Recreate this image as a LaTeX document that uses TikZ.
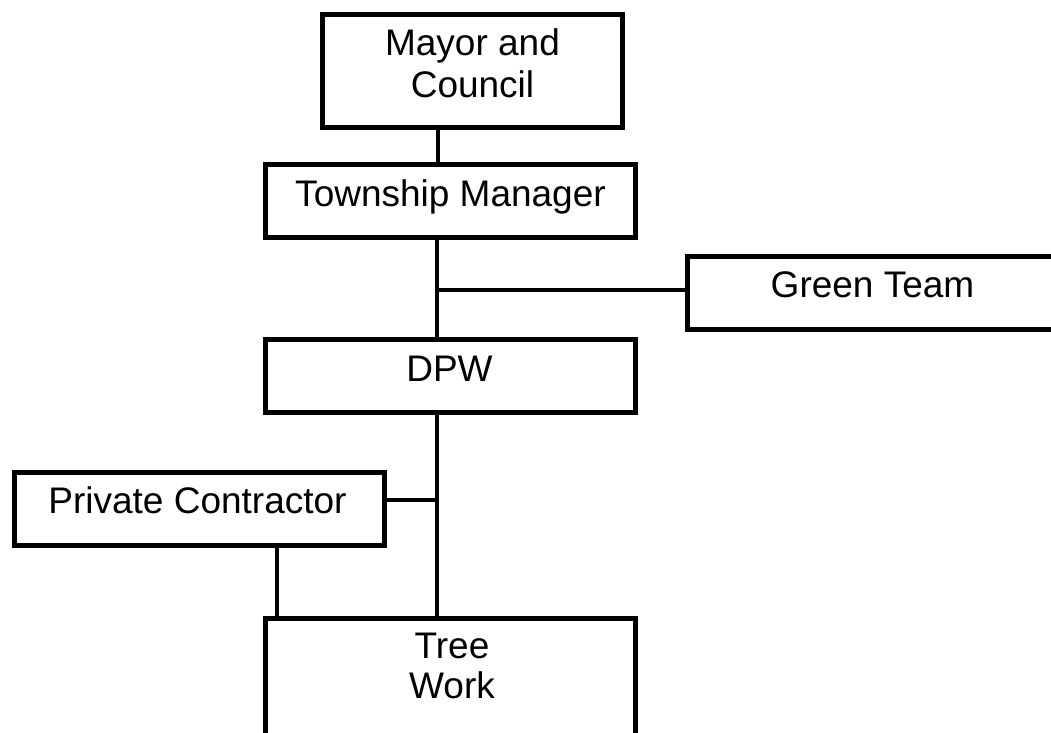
\documentclass[tikz,border=0pt]{standalone}
\usepackage{fontspec}
\setmainfont{Liberation Sans}
\begin{document}
\begin{tikzpicture}[x=1pt,y=-1pt,
  box/.style={draw=black, line width=5pt, rectangle, inner sep=0pt,
              minimum width=370pt, minimum height=73pt},
  lbl/.style={font=\fontsize{37}{42}\selectfont, inner sep=0pt, anchor=base},
  conn/.style={draw=black, line width=4.5pt}]
\useasboundingbox (0,0) rectangle (1051,732);
\clip (0,0) rectangle (1051,732);
% boxes
\node[box, minimum width=300pt, minimum height=113pt] (mayor) at (472.5,71) {};
\node[box] (tm) at (450.5,201) {};
\node[box] (green) at (872.5,292.5) {};
\node[box] (dpw) at (450.5,376) {};
\node[box] (pc) at (199.5,509) {};
\node[box, minimum height=200pt] (tree) at (450,718.5) {};
% labels
\node[lbl] (mayorA) at (472.5,55) {Mayor and};
\node[lbl] (mayorB) at (472.5,97) {Council};
\node[lbl] (tmT) at (450.5,206) {Township Manager};
\node[lbl] (greenT) at (872.5,297.5) {Green Team};
\node[lbl] (dpwT) at (449.5,381) {DPW};
\node[lbl] (pcT) at (197.5,513) {Private Contractor};
\node[lbl] (treeA) at (452,658) {Tree};
\node[lbl] (treeB) at (452,698) {Work};
% connectors
\coordinate (spine) at (437,0);
\coordinate (spineTop) at (438,0);
\coordinate (pcx) at (277,0);
\coordinate (gj) at (437,290);
\coordinate (pj) at (437,500);
\draw[conn] (mayor.south -| spineTop) -- (tm.north -| spineTop);
\draw[conn] (tm.south -| spine) -- (dpw.north -| spine);
\draw[conn] (gj) -- (gj -| green.west);
\draw[conn] (dpw.south -| spine) -- (tree.north -| spine);
\draw[conn] (pj) -- (pj -| pc.east);
\draw[conn] (pc.south -| pcx) -- (tree.north -| pcx);
\end{tikzpicture}
\end{document}
